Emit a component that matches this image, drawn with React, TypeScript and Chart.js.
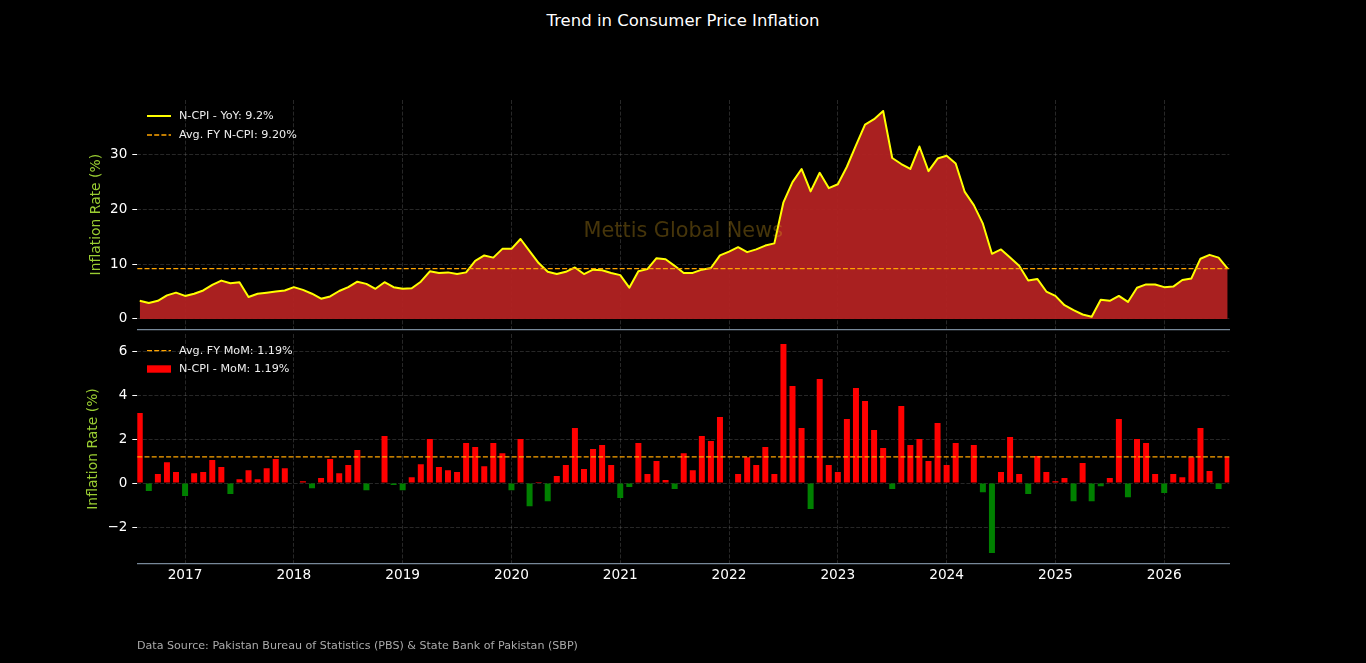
import { useEffect, useRef } from "react";
import { Chart, registerables } from "chart.js";

Chart.register(...registerables);

const FONT = "'DejaVu Sans', Verdana, sans-serif";

// monthly N-CPI, Jul 2016 .. Jul 2026 (x = month index, 0 = Jul 2016)
const YOY = [
  3.3, 2.9, 3.3, 4.3, 4.8, 4.2, 4.6, 5.2, 6.2, 7.0, 6.5, 6.7,
  4.0, 4.6, 4.8, 5.0, 5.2, 5.8, 5.3, 4.6, 3.7, 4.1, 5.1, 5.8,
  6.8, 6.4, 5.5, 6.7, 5.8, 5.5, 5.6, 6.8, 8.7, 8.4, 8.5, 8.2,
  8.5, 10.6, 11.6, 11.2, 12.8, 12.8, 14.6, 12.4, 10.2, 8.6, 8.2, 8.6,
  9.4, 8.2, 9.0, 8.9, 8.4, 8.0, 5.7, 8.7, 9.1, 11.1, 10.9, 9.7,
  8.4, 8.4, 9.0, 9.3, 11.6, 12.3, 13.1, 12.2, 12.7, 13.4, 13.8, 21.3,
  25.0, 27.4, 23.3, 26.7, 23.9, 24.6, 27.8, 31.7, 35.5, 36.5, 38.0, 29.4,
  28.3, 27.4, 31.5, 27.0, 29.3, 29.8, 28.4, 23.2, 20.8, 17.4, 11.9, 12.7,
  11.2, 9.7, 7.0, 7.3, 5.0, 4.2, 2.5, 1.6, 0.8, 0.4, 3.5, 3.3,
  4.2, 3.1, 5.7, 6.3, 6.3, 5.8, 5.9, 7.1, 7.4, 11.0, 11.7, 11.2,
  9.2,
];

const MOM = [
  3.18, -0.36, 0.41, 0.95, 0.5, -0.58, 0.45, 0.5, 1.05, 0.73, -0.5, 0.18,
  0.59, 0.18, 0.68, 1.09, 0.68, 0.0, 0.09, -0.23, 0.23, 1.09, 0.45, 0.82,
  1.5, -0.32, 0.0, 2.14, -0.09, -0.32, 0.27, 0.86, 2.0, 0.73, 0.59, 0.5,
  1.82, 1.64, 0.77, 1.82, 1.36, -0.32, 2.0, -1.05, 0.05, -0.82, 0.32, 0.82,
  2.5, 0.64, 1.55, 1.73, 0.82, -0.68, -0.18, 1.82, 0.41, 1.0, 0.14, -0.27,
  1.36, 0.59, 2.14, 1.91, 3.0, 0.0, 0.41, 1.18, 0.82, 1.64, 0.41, 6.32,
  4.41, 2.5, -1.18, 4.73, 0.82, 0.5, 2.91, 4.32, 3.73, 2.41, 1.59, -0.27,
  3.5, 1.73, 2.0, 1.0, 2.73, 0.82, 1.82, 0.0, 1.73, -0.41, -3.18, 0.5,
  2.09, 0.41, -0.5, 1.23, 0.5, 0.09, 0.23, -0.82, 0.91, -0.82, -0.14, 0.23,
  2.91, -0.64, 2.0, 1.82, 0.41, -0.45, 0.41, 0.27, 1.18, 2.5, 0.55, -0.27,
  1.19,
];

const AVG_YOY = 9.2;
const AVG_MOM = 1.19;

const YEAR_TICKS = [5, 17, 29, 41, 53, 65, 77, 89, 101, 113];
const YEAR_LABELS = ["2017", "2018", "2019", "2020", "2021", "2022", "2023", "2024", "2025", "2026"];
const YOY_TICKS = [0, 10, 20, 30];
const MOM_TICKS = [-2, 0, 2, 4, 6];

const X_MIN = -0.27;
const X_MAX = 120.18;

const GRID = "rgba(128,128,128,0.3)";
const SPINE = "#778899";
const YG = "#9acd32";
const ORANGE = "#ffa500";

type LegendItem = { kind: "line" | "dash" | "box"; color: string; text: string };

function inlineLegend(items: LegendItem[], rows: number[]) {
  return {
    id: "inlineLegend",
    afterDatasetsDraw(chart: Chart) {
      const { ctx, chartArea } = chart;
      const x0 = chartArea.left + 9.7;
      ctx.save();
      items.forEach((it, k) => {
        const y = chartArea.top + rows[k];
        if (it.kind === "box") {
          ctx.fillStyle = it.color;
          ctx.fillRect(x0, y - 3.7, 24, 7.4);
        } else {
          ctx.strokeStyle = it.color;
          ctx.lineWidth = it.kind === "line" ? 2 : 1.3;
          ctx.setLineDash(it.kind === "dash" ? [5, 2.2] : []);
          ctx.beginPath();
          ctx.moveTo(x0, y);
          ctx.lineTo(x0 + 24, y);
          ctx.stroke();
        }
        ctx.setLineDash([]);
        ctx.fillStyle = "#eeeeee";
        ctx.font = `11.2px ${FONT}`;
        ctx.textAlign = "left";
        ctx.textBaseline = "middle";
        ctx.fillText(it.text, x0 + 32, y);
      });
      ctx.restore();
    },
  };
}

function avgLine(value: number) {
  return {
    id: "avgLine",
    afterDatasetsDraw(chart: Chart) {
      const { ctx, chartArea, scales } = chart;
      const y = scales.y.getPixelForValue(value);
      ctx.save();
      ctx.strokeStyle = ORANGE;
      ctx.lineWidth = 1.3;
      ctx.setLineDash([5, 2.2]);
      ctx.beginPath();
      ctx.moveTo(chartArea.left, y);
      ctx.lineTo(chartArea.right, y);
      ctx.stroke();
      ctx.restore();
    },
  };
}

const watermark = {
  id: "watermark",
  afterDatasetsDraw(chart: Chart) {
    const { ctx, chartArea } = chart;
    ctx.save();
    ctx.font = `20.8px ${FONT}`;
    ctx.fillStyle = "rgba(218,165,32,0.32)";
    ctx.textAlign = "center";
    ctx.textBaseline = "alphabetic";
    ctx.fillText("Mettis Global News", (chartArea.left + chartArea.right) / 2, chartArea.top + 137);
    ctx.restore();
  },
};

const minus = (v: number | string) => String(v).replace("-", "\u2212");

function xScale(showLabels: boolean) {
  return {
    type: "linear" as const,
    min: X_MIN,
    max: X_MAX,
    offset: false,
    afterBuildTicks: (s: any) => {
      s.ticks = YEAR_TICKS.map((v) => ({ value: v }));
    },
    afterFit: (s: any) => {
      s.height = showLabels ? 30 : 0;
      s.paddingLeft = 0;
      s.paddingRight = 0;
    },
    ticks: {
      display: showLabels,
      color: "#ffffff",
      font: { family: FONT, size: 13.7 },
      padding: 3,
      maxRotation: 0,
      autoSkip: false,
      callback: (v: any) => YEAR_LABELS[YEAR_TICKS.indexOf(Number(v))] ?? "",
    },
    grid: { color: GRID, lineWidth: 1, drawTicks: false, offset: false },
    border: { display: true, color: SPINE, width: 1.3, dash: [4, 1.8] },
  };
}

function yScale(min: number, max: number, ticks: number[], titlePad: number) {
  return {
    min,
    max,
    afterBuildTicks: (s: any) => {
      s.ticks = ticks.map((v) => ({ value: v }));
    },
    afterFit: (s: any) => {
      s.width = 137.3;
      s.paddingTop = 0;
      s.paddingBottom = 0;
    },
    ticks: {
      color: "#ffffff",
      font: { family: FONT, size: 13.5 },
      padding: 5,
      callback: (v: any) => minus(v),
    },
    grid: { color: GRID, lineWidth: 1, drawTicks: true, tickLength: 5, tickColor: "#ffffff", tickWidth: 1 },
    border: { display: false, dash: [4, 1.8] },
    title: {
      display: true,
      text: "Inflation Rate (%)",
      color: YG,
      font: { family: FONT, size: 13.9 },
      padding: { top: titlePad, bottom: 0 },
    },
  };
}

function TopPanel() {
  const ref = useRef<HTMLCanvasElement>(null);
  useEffect(() => {
    if (!ref.current) return;
    const chart = new Chart(ref.current, {
      type: "line",
      data: {
        datasets: [
          {
            label: "N-CPI - YoY",
            data: YOY.map((v, i) => ({ x: i, y: v })),
            borderColor: "#ffff00",
            borderWidth: 2,
            borderJoinStyle: "round",
            backgroundColor: "rgba(178,34,34,0.95)",
            fill: "origin",
            pointRadius: 0,
            tension: 0,
          },
        ],
      },
      options: {
        responsive: true,
        maintainAspectRatio: false,
        animation: false,
        events: [],
        layout: { padding: { top: 100, right: 136.7, bottom: 2.7, left: 0 } },
        plugins: { legend: { display: false }, tooltip: { enabled: false } },
        scales: {
          x: xScale(false),
          y: yScale(-1.9, 40, YOY_TICKS, 87.7),
        },
      },
      plugins: [
        watermark,
        avgLine(AVG_YOY),
        inlineLegend(
          [
            { kind: "line", color: "#ffff00", text: "N-CPI - YoY: 9.2%" },
            { kind: "dash", color: ORANGE, text: "Avg. FY N-CPI: 9.20%" },
          ],
          [16, 35]
        ),
      ],
    });
    return () => chart.destroy();
  }, []);
  return (
    <div style={{ position: "absolute", left: 0, top: 0, width: 1366, height: 332 }}>
      <canvas ref={ref} />
    </div>
  );
}

function BottomPanel() {
  const ref = useRef<HTMLCanvasElement>(null);
  useEffect(() => {
    if (!ref.current) return;
    const chart = new Chart(ref.current, {
      type: "bar",
      data: {
        datasets: [
          {
            label: "N-CPI - MoM",
            data: MOM.map((v, i) => ({ x: i, y: v })),
            backgroundColor: MOM.map((v) => (v >= 0 ? "#ff0000" : "#008000")),
            borderWidth: 0,
            barPercentage: 0.66,
            categoryPercentage: 1,
          },
        ],
      },
      options: {
        responsive: true,
        maintainAspectRatio: false,
        animation: false,
        events: [],
        layout: { padding: { top: 2, right: 136.7, bottom: 69, left: 0 } },
        plugins: { legend: { display: false }, tooltip: { enabled: false } },
        scales: {
          x: xScale(true),
          y: yScale(-3.675, 6.775, MOM_TICKS, 84.7),
        },
      },
      plugins: [
        avgLine(AVG_MOM),
        inlineLegend(
          [
            { kind: "dash", color: ORANGE, text: "Avg. FY MoM: 1.19%" },
            { kind: "box", color: "#ff0000", text: "N-CPI - MoM: 1.19%" },
          ],
          [16.7, 35]
        ),
      ],
    });
    return () => chart.destroy();
  }, []);
  return (
    <div style={{ position: "absolute", left: 0, top: 332, width: 1366, height: 331 }}>
      <canvas ref={ref} />
    </div>
  );
}

export default function App() {
  return (
    <div
      style={{
        position: "fixed",
        left: 0,
        top: 0,
        width: 1366,
        height: 663,
        background: "#000000",
        overflow: "hidden",
        fontFamily: FONT,
      }}
    >
      <div
        style={{
          position: "absolute",
          left: 0,
          top: 0,
          width: 1366,
          textAlign: "center",
          color: "#ffffff",
          fontSize: 16.5,
          lineHeight: "42px",
        }}
      >
        Trend in Consumer Price Inflation
      </div>
      <TopPanel />
      <BottomPanel />
      <div
        style={{
          position: "absolute",
          left: 137,
          top: 639,
          color: "#aaaaaa",
          fontSize: 11.1,
          lineHeight: "14px",
          whiteSpace: "nowrap",
        }}
      >
        Data Source: Pakistan Bureau of Statistics (PBS) &amp; State Bank of Pakistan (SBP)
      </div>
    </div>
  );
}
